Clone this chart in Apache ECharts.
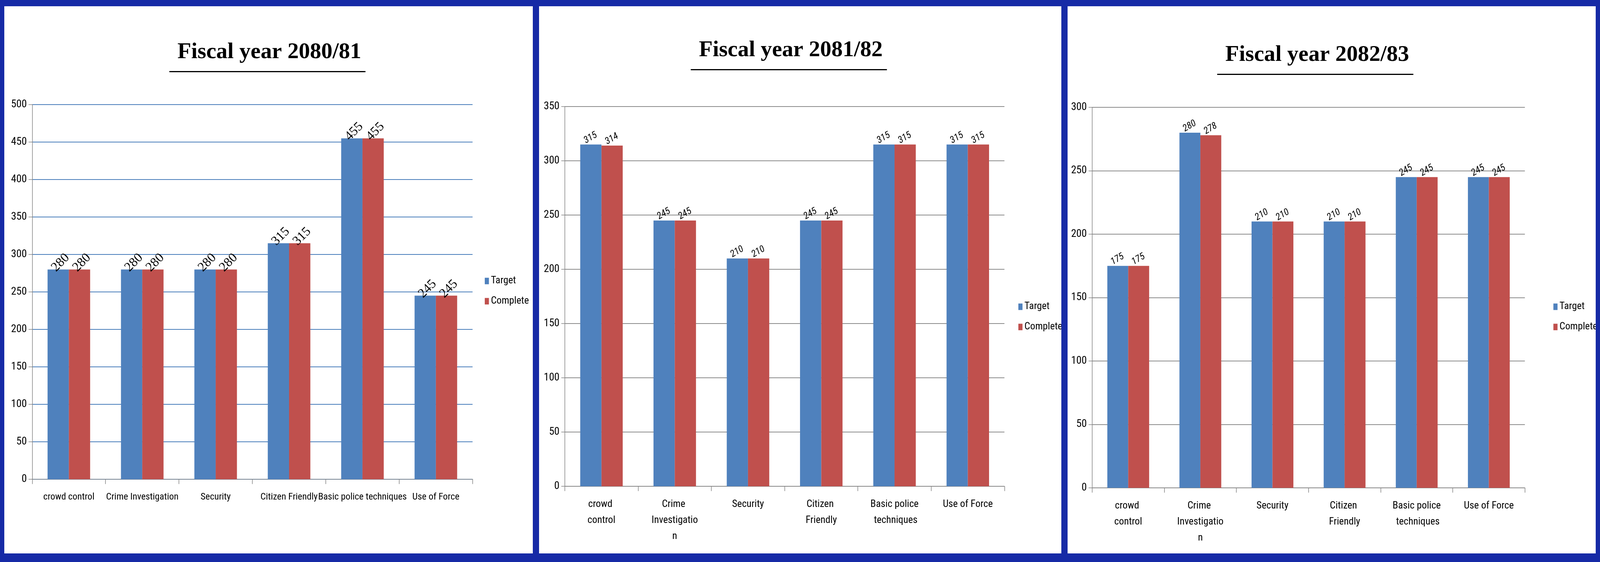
<!DOCTYPE html>
<html>
<head>
<meta charset="utf-8">
<script src="https://cdn.jsdelivr.net/npm/echarts@6/dist/echarts.min.js"></script>
<style>
  html, body { margin: 0; padding: 0; background: #162aa6; width: 100%; height: 100%; overflow: hidden; }
  .panel { position: absolute; background: #fff; }
</style>
</head>
<body>
<div id="p1" class="panel"></div>
<div id="p2" class="panel"></div>
<div id="p3" class="panel"></div>
<script>
const categories = ["crowd control", "Crime Investigation", "Security", "Citizen Friendly", "Basic police techniques", "Use of Force"];
const seriesNames = ["Target", "Complete"];

const target8081 = [280, 280, 280, 315, 455, 245];
const complete8081 = [280, 280, 280, 315, 455, 245];
const target8182 = [315, 245, 210, 245, 315, 315];
const complete8182 = [314, 245, 210, 245, 315, 315];
const target8283 = [175, 280, 210, 210, 245, 245];
const complete8283 = [175, 278, 210, 210, 245, 245];

const NARROW = "'Liberation Sans Narrow', 'Roboto Condensed', 'DejaVu Sans Condensed', sans-serif";
const BLUE = "#4f81bd";
const RED = "#c0504d";

// everything below is laid out for a 5400px wide page, then scaled
const s = window.innerWidth / 5400;
const sy = window.innerHeight / 1440;

function placePanel(el, left, width) {
  el.style.left = left * s + "px";
  el.style.width = width * s + "px";
  el.style.top = 16 * sy + "px";
  el.style.height = 1402 * sy + "px";
}

function buildChart(el, cfg) {
  const chart = echarts.init(el);
  const labelStyle = cfg.serifLabels
    ? { fontFamily: "'Liberation Serif', serif", fontSize: 44 * s, rotate: 45, offset: [-16 * s, -6 * s] }
    : { fontFamily: NARROW, fontStyle: "italic", fontSize: 32 * s, rotate: 30, offset: [-16 * s, -14 * s] };

  const makeSeries = (name, data, color) => ({
    name: name,
    type: "bar",
    data: data,
    barGap: "0%",
    barCategoryGap: "42%",
    itemStyle: { color: color },
    label: Object.assign({
      show: true,
      position: "top",
      align: "left",
      verticalAlign: "middle",
      color: "#000",
    }, labelStyle),
  });

  const option = {
    animation: false,
    title: {
      text: cfg.title,
      left: cfg.titleX * s,
      top: cfg.titleY * sy,
      textAlign: "center",
      textVerticalAlign: "middle",
      textStyle: { fontFamily: "'Liberation Serif', 'Times New Roman', serif", fontWeight: "bold", fontSize: 76 * s, color: "#000" },
    },
    graphic: [{
      type: "rect",
      shape: { x: (cfg.titleX - 331) * s, y: cfg.lineY * sy, width: 662 * s, height: 4 * s },
      style: { fill: "#000" },
    }],
    legend: {
      orient: "vertical",
      left: cfg.legendX * s,
      top: cfg.legendY * sy,
      itemWidth: 14 * s,
      itemHeight: 22 * s,
      itemGap: 34 * s,
      icon: "rect",
      textStyle: { fontFamily: NARROW, fontSize: 34 * s, color: "#000" },
      data: seriesNames,
    },
    grid: {
      left: cfg.grid[0] * s,
      right: cfg.grid[1] * s,
      top: cfg.grid[2] * sy,
      bottom: cfg.grid[3] * sy,
    },
    xAxis: {
      type: "category",
      data: categories,
      axisLine: { lineStyle: { color: "#868686", width: 2 * s } },
      axisTick: { show: true, length: 16 * s, lineStyle: { color: "#868686", width: 2 * s } },
      axisLabel: {
        interval: 0,
        margin: 34 * s,
        color: "#000",
        fontFamily: NARROW,
        fontSize: cfg.catFont * s,
        lineHeight: 54 * s,
        width: cfg.labelWidth * s,
        overflow: "break",
      },
    },
    yAxis: {
      type: "value",
      min: 0,
      max: cfg.max,
      interval: 50,
      axisLine: { show: true, lineStyle: { color: "#868686", width: 2 * s } },
      axisTick: { show: true, length: 12 * s, lineStyle: { color: "#868686", width: 2 * s } },
      axisLabel: { margin: 18 * s, color: "#000", fontFamily: NARROW, fontSize: 36 * s },
      splitLine: { lineStyle: { color: cfg.gridColor, width: 2.5 * s } },
    },
    series: [
      makeSeries(seriesNames[0], cfg.target, BLUE),
      makeSeries(seriesNames[1], cfg.complete, RED),
    ],
  };

  chart.setOption(option);
  return chart;
}

const p1 = document.getElementById("p1");
const p2 = document.getElementById("p2");
const p3 = document.getElementById("p3");
placePanel(p1, 15, 1783);
placePanel(p2, 1819, 1763);
placePanel(p3, 3603, 1782);

buildChart(p1, {
  title: "Fiscal year 2080/81",
  titleX: 888, titleY: 113, lineY: 166,
  legendX: 1615, legendY: 686,
  grid: [94, 202, 252, 190],
  max: 500, gridColor: "#4a7ebb", serifLabels: true, labelWidth: 400, catFont: 32,
  target: target8081, complete: complete8081,
});

buildChart(p2, {
  title: "Fiscal year 2081/82",
  titleX: 843, titleY: 108, lineY: 161,
  legendX: 1611, legendY: 752,
  grid: [87, 192, 257, 172],
  max: 350, gridColor: "#8c8c8c", serifLabels: false, labelWidth: 210, catFont: 34,
  target: target8182, complete: complete8182,
});

buildChart(p3, {
  title: "Fiscal year 2082/83",
  titleX: 836, titleY: 120, lineY: 173,
  legendX: 1633, legendY: 752,
  grid: [83, 239, 259, 168],
  max: 300, gridColor: "#8c8c8c", serifLabels: false, labelWidth: 210, catFont: 34,
  target: target8283, complete: complete8283,
});
</script>
</body>
</html>
